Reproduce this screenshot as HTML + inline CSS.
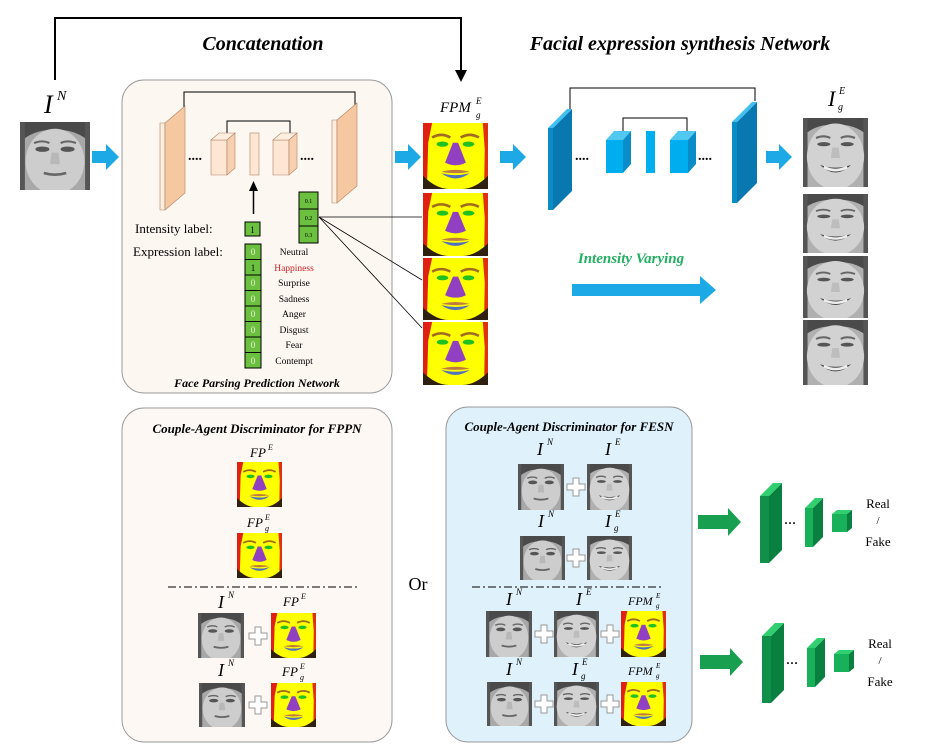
<!DOCTYPE html>
<html><head><meta charset="utf-8"><style>
html,body{margin:0;padding:0;background:#fff}
svg{display:block}
text{font-family:"Liberation Serif",serif}
</style></head><body>
<svg width="951" height="752" viewBox="0 0 951 752" xmlns="http://www.w3.org/2000/svg">
<defs>
<symbol id="face" viewBox="0 0 100 100" preserveAspectRatio="none">
<rect width="100" height="100" fill="#a8a8a8"/>
<path d="M0 0 H100 V30 Q80 10 50 12 Q20 10 0 30Z" fill="#4a4a4a"/>
<rect x="0" y="0" width="7" height="100" fill="#555"/>
<rect x="93" y="0" width="7" height="100" fill="#555"/>
<ellipse cx="50" cy="58" rx="42" ry="48" fill="#cdcdcd"/>
<ellipse cx="32" cy="40" rx="10" ry="4" fill="#555"/>
<ellipse cx="68" cy="40" rx="10" ry="4" fill="#555"/>
<path d="M20 31 Q32 26 42 31" stroke="#666" stroke-width="3" fill="none"/>
<path d="M58 31 Q68 26 80 31" stroke="#666" stroke-width="3" fill="none"/>
<path d="M45 45 L43 62 L57 62 L55 45" fill="#b8b8b8"/>
<path d="M34 75 Q50 80 66 75" stroke="#666" stroke-width="4" fill="none"/>
</symbol>
<symbol id="smile" viewBox="0 0 100 100" preserveAspectRatio="none">
<rect width="100" height="100" fill="#b0b0b0"/>
<path d="M0 0 H100 V26 Q80 8 50 10 Q20 8 0 26Z" fill="#4a4a4a"/>
<rect x="0" y="0" width="7" height="100" fill="#555"/>
<rect x="93" y="0" width="7" height="100" fill="#555"/>
<ellipse cx="50" cy="56" rx="44" ry="48" fill="#d2d2d2"/>
<ellipse cx="32" cy="38" rx="10" ry="3" fill="#555"/>
<ellipse cx="68" cy="38" rx="10" ry="3" fill="#555"/>
<path d="M20 29 Q32 24 42 29" stroke="#666" stroke-width="3" fill="none"/>
<path d="M58 29 Q68 24 80 29" stroke="#666" stroke-width="3" fill="none"/>
<path d="M45 43 L43 58 L57 58 L55 43" fill="#bdbdbd"/>
<path d="M26 68 Q50 90 74 68 Q50 76 26 68Z" fill="#444"/>
<path d="M32 71 Q50 80 68 71" stroke="#eee" stroke-width="4" fill="none"/>
</symbol>
<symbol id="fp" viewBox="0 0 100 100" preserveAspectRatio="none">
<rect width="100" height="100" fill="#ffff00"/>
<path d="M0 0 L14 0 L8 30 L6 100 L0 100Z" fill="#e02010"/>
<path d="M100 0 L92 0 L95 40 L94 100 L100 100Z" fill="#e03010"/>
<path d="M0 80 Q20 100 40 100 L0 100Z" fill="#302010"/>
<path d="M100 80 Q80 100 60 100 L100 100Z" fill="#302010"/>
<path d="M14 22 Q28 14 42 22" stroke="#a06a20" stroke-width="4" fill="none"/>
<path d="M58 22 Q72 14 86 22" stroke="#a06a20" stroke-width="4" fill="none"/>
<ellipse cx="30" cy="32" rx="9" ry="4" fill="#20c020"/>
<ellipse cx="70" cy="32" rx="9" ry="4" fill="#20c020"/>
<path d="M46 30 L54 30 L66 60 Q50 68 34 60Z" fill="#9040c0"/>
<path d="M28 74 Q50 68 72 74 Q50 78 28 74Z" fill="#c07a40"/>
<path d="M28 76 Q50 92 72 76 Q50 82 28 76Z" fill="#5070c0"/>
</symbol>
<symbol id="plus" viewBox="0 0 20 20"><path d="M7 1H13V7H19V13H13V19H7V13H1V7H7Z" fill="#fff" stroke="#999" stroke-width="1"/></symbol>
</defs>

<polyline points="55,80 55,18 461,18 461,72" fill="none" stroke="#000" stroke-width="2"/>
<polygon points="455,70 467,70 461,82" fill="#000"/>
<text x="263" y="50" font-size="20" font-weight="bold" font-style="italic" text-anchor="middle">Concatenation</text>
<text x="680" y="50" font-size="20" font-weight="bold" font-style="italic" text-anchor="middle">Facial expression synthesis Network</text>

<text x="44" y="113" font-size="26" font-style="italic">I</text><text x="57" y="100" font-size="14" font-style="italic">N</text>
<use href="#face" x="20" y="122" width="70" height="68"/>
<polygon points="92,151 106,151 106,144 119,157 106,170 106,163 92,163" fill="#1ca9e6"/>

<rect x="122" y="80" width="270" height="313" rx="22" fill="#fdf7f2" stroke="#999"/>
<polyline points="184,112 184,92 355,92 355,105" fill="none" stroke="#000"/>
<polygon points="160,123 165,123 165,210 160,210" fill="#fdeee0" stroke="#b08060" stroke-width=".6"/>
<polygon points="165,123 185,106 185,193 165,210" fill="#f6c8a2" stroke="#b08060" stroke-width=".6"/>
<polygon points="332,120 337,120 337,203 332,203" fill="#fdeee0" stroke="#b08060" stroke-width=".6"/>
<polygon points="337,120 357,103 357,186 337,203" fill="#f6c8a2" stroke="#b08060" stroke-width=".6"/>
<polyline points="227,135 227,121 290,121 290,135" fill="none" stroke="#000"/>
<polygon points="211,140 227,140 227,175 211,175" fill="#fde6d4" stroke="#b08060" stroke-width=".6"/>
<polygon points="211,140 219,133 235,133 227,140" fill="#fdeee0" stroke="#b08060" stroke-width=".6"/>
<polygon points="227,140 235,133 235,168 227,175" fill="#f6d0b0" stroke="#b08060" stroke-width=".6"/>
<rect x="250" y="133" width="9" height="42" fill="#fde6d4" stroke="#b08060" stroke-width=".6"/>
<polygon points="273,140 289,140 289,175 273,175" fill="#fde6d4" stroke="#b08060" stroke-width=".6"/>
<polygon points="273,140 281,133 297,133 289,140" fill="#fdeee0" stroke="#b08060" stroke-width=".6"/>
<polygon points="289,140 297,133 297,168 289,175" fill="#f6d0b0" stroke="#b08060" stroke-width=".6"/>
<text x="188" y="160" font-size="14" font-weight="bold">....</text>
<text x="300" y="160" font-size="14" font-weight="bold">....</text>
<line x1="253.5" y1="214" x2="253.5" y2="190" stroke="#000" stroke-width="1.5"/>
<polygon points="249,191 258,191 253.5,181" fill="#000"/>
<text x="135" y="233" font-size="13">Intensity label:</text>
<text x="133" y="256" font-size="13">Expression label:</text>
<rect x="245" y="222" width="15" height="14" fill="#6cc040" stroke="#000"/>
<text x="252.5" y="233" font-size="9" text-anchor="middle">1</text>
<g font-size="9">
<rect x="245" y="244" width="16" height="124" fill="#6cc040" stroke="#000"/>
<g stroke="#000"><line x1="245" y1="259.5" x2="261" y2="259.5"/><line x1="245" y1="275" x2="261" y2="275"/><line x1="245" y1="290.5" x2="261" y2="290.5"/><line x1="245" y1="306" x2="261" y2="306"/><line x1="245" y1="321.5" x2="261" y2="321.5"/><line x1="245" y1="337" x2="261" y2="337"/><line x1="245" y1="352.5" x2="261" y2="352.5"/></g>
<g fill="#f0f0e0" text-anchor="middle"><text x="253" y="255">0</text><text x="253" y="271" fill="#000">1</text><text x="253" y="286">0</text><text x="253" y="302">0</text><text x="253" y="317">0</text><text x="253" y="333">0</text><text x="253" y="348">0</text><text x="253" y="364">0</text></g>
</g>
<g font-size="9.5" text-anchor="middle"><text x="294" y="255">Neutral</text><text x="294" y="271" fill="#d02020">Happiness</text><text x="294" y="286">Surprise</text><text x="294" y="302">Sadness</text><text x="294" y="317">Anger</text><text x="294" y="333">Disgust</text><text x="294" y="348">Fear</text><text x="294" y="364">Contempt</text></g>
<rect x="299" y="192" width="19" height="51" fill="#6cc040" stroke="#000"/>
<line x1="299" y1="209" x2="318" y2="209" stroke="#000"/><line x1="299" y1="226" x2="318" y2="226" stroke="#000"/>
<g font-size="6" text-anchor="middle"><text x="308.5" y="203">0.1</text><text x="308.5" y="220">0.2</text><text x="308.5" y="237">0.3</text></g>
<g stroke="#000" stroke-width=".8"><line x1="319" y1="217" x2="422" y2="217"/><line x1="319" y1="217" x2="422" y2="280"/><line x1="319" y1="217" x2="422" y2="328"/></g>
<text x="257" y="387" font-size="12" font-weight="bold" font-style="italic" text-anchor="middle">Face Parsing Prediction Network</text>

<text x="440" y="112" font-size="15" font-style="italic">FPM</text><text x="476" y="104" font-size="9" font-style="italic">E</text><text x="476" y="118" font-size="9" font-style="italic">g</text>
<polygon points="395,151 408,151 408,144 421,157 408,170 408,163 395,163" fill="#1ca9e6"/>
<use href="#fp" x="423" y="123" width="65" height="66"/>
<use href="#fp" x="423" y="193" width="65" height="63"/>
<use href="#fp" x="423" y="258" width="65" height="62"/>
<use href="#fp" x="423" y="322" width="65" height="63"/>
<polygon points="500,151 513,151 513,144 526,157 513,170 513,163 500,163" fill="#1ca9e6"/>

<polyline points="570,110 570,88 755,88 755,101" fill="none" stroke="#000"/>
<polygon points="548,128 553,128 553,210 548,210" fill="#0a8cc8"/>
<polygon points="553,128 572,109 572,191 553,210" fill="#0a78b0"/>
<polygon points="548,128 567,109 572,109 553,128" fill="#40c0f0"/>
<polygon points="732,122 737,122 737,203 732,203" fill="#0a8cc8"/>
<polygon points="737,122 757,102 757,183 737,203" fill="#0a78b0"/>
<polygon points="732,122 752,102 757,102 737,122" fill="#40c0f0"/>
<polyline points="623,133 623,118 687,118 687,133" fill="none" stroke="#000"/>
<rect x="606" y="140" width="17" height="33" fill="#00aeef"/>
<polygon points="606,140 614,131 631,131 623,140" fill="#50c8f0"/>
<polygon points="623,140 631,131 631,164 623,173" fill="#0a8cc8"/>
<rect x="646" y="131" width="9" height="42" fill="#00aeef"/>
<rect x="670" y="140" width="18" height="33" fill="#00aeef"/>
<polygon points="670,140 678,131 696,131 688,140" fill="#50c8f0"/>
<polygon points="688,140 696,131 696,164 688,173" fill="#0a8cc8"/>
<text x="575" y="160" font-size="14" font-weight="bold">....</text>
<text x="698" y="160" font-size="14" font-weight="bold">....</text>
<polygon points="766,151 779,151 779,144 792,157 779,170 779,163 766,163" fill="#1ca9e6"/>

<text x="828" y="106" font-size="22" font-style="italic">I</text><text x="839" y="94" font-size="10" font-style="italic">E</text><text x="838" y="110" font-size="10" font-style="italic">g</text>
<use href="#smile" x="803" y="118" width="65" height="69"/>
<use href="#smile" x="803" y="194" width="65" height="59"/>
<use href="#smile" x="803" y="256" width="65" height="62"/>
<use href="#smile" x="803" y="320" width="65" height="65"/>
<text x="631" y="263" font-size="15" font-weight="bold" font-style="italic" fill="#20b060" text-anchor="middle">Intensity Varying</text>
<polygon points="572,284 700,284 700,276 716,290 700,304 700,296 572,296" fill="#1ca9e6"/>

<rect x="122" y="408" width="270" height="334" rx="22" fill="#fdf8f4" stroke="#999"/>
<text x="257" y="433" font-size="13" font-weight="bold" font-style="italic" text-anchor="middle">Couple-Agent Discriminator for FPPN</text>
<text x="250" y="457" font-size="13" font-style="italic">FP</text><text x="268" y="450" font-size="8" font-style="italic">E</text>
<use href="#fp" x="237" y="462" width="45" height="45"/>
<text x="247" y="527" font-size="13" font-style="italic">FP</text><text x="265" y="520" font-size="8" font-style="italic">E</text><text x="265" y="531" font-size="8" font-style="italic">g</text>
<use href="#fp" x="237" y="533" width="45" height="45"/>
<line x1="168" y1="587" x2="360" y2="587" stroke="#000" stroke-dasharray="8,3,2,3"/>
<text x="218" y="608" font-size="18" font-style="italic">I</text><text x="228" y="598" font-size="9" font-style="italic">N</text>
<text x="283" y="606" font-size="13" font-style="italic">FP</text><text x="301" y="599" font-size="8" font-style="italic">E</text>
<use href="#face" x="198" y="613" width="46" height="45"/>
<use href="#plus" x="248" y="626" width="20" height="20"/>
<use href="#fp" x="271" y="613" width="45" height="45"/>
<text x="218" y="676" font-size="18" font-style="italic">I</text><text x="228" y="666" font-size="9" font-style="italic">N</text>
<text x="282" y="676" font-size="13" font-style="italic">FP</text><text x="300" y="669" font-size="8" font-style="italic">E</text><text x="300" y="680" font-size="8" font-style="italic">g</text>
<use href="#face" x="199" y="683" width="46" height="44"/>
<use href="#plus" x="248" y="695" width="20" height="20"/>
<use href="#fp" x="271" y="683" width="45" height="44"/>
<text x="418" y="590" font-size="18" font-family="Liberation Sans, sans-serif" text-anchor="middle">Or</text>

<rect x="446" y="407" width="246" height="335" rx="22" fill="#dff1fb" stroke="#999"/>
<text x="569" y="431" font-size="13" font-weight="bold" font-style="italic" text-anchor="middle">Couple-Agent Discriminator for FESN</text>
<text x="537" y="455" font-size="18" font-style="italic">I</text><text x="547" y="445" font-size="9" font-style="italic">N</text>
<text x="605" y="455" font-size="18" font-style="italic">I</text><text x="615" y="445" font-size="9" font-style="italic">E</text>
<use href="#face" x="518" y="464" width="46" height="46"/>
<use href="#plus" x="566" y="477" width="20" height="20"/>
<use href="#smile" x="587" y="464" width="45" height="46"/>
<text x="538" y="527" font-size="18" font-style="italic">I</text><text x="548" y="517" font-size="9" font-style="italic">N</text>
<text x="605" y="527" font-size="18" font-style="italic">I</text><text x="615" y="517" font-size="9" font-style="italic">E</text><text x="614" y="531" font-size="9" font-style="italic">g</text>
<use href="#face" x="520" y="536" width="45" height="44"/>
<use href="#plus" x="566" y="548" width="20" height="20"/>
<use href="#smile" x="587" y="536" width="45" height="44"/>
<line x1="472" y1="587" x2="662" y2="587" stroke="#000" stroke-dasharray="8,3,2,3"/>
<text x="506" y="605" font-size="18" font-style="italic">I</text><text x="516" y="595" font-size="9" font-style="italic">N</text>
<text x="576" y="605" font-size="18" font-style="italic">I</text><text x="586" y="595" font-size="9" font-style="italic">E</text>
<text x="628" y="605" font-size="12" font-style="italic">FPM</text><text x="656" y="598" font-size="7" font-style="italic">E</text><text x="656" y="608" font-size="7" font-style="italic">g</text>
<use href="#face" x="486" y="611" width="46" height="46"/>
<use href="#plus" x="534" y="624" width="20" height="20"/>
<use href="#smile" x="554" y="611" width="45" height="46"/>
<use href="#plus" x="600" y="624" width="20" height="20"/>
<use href="#fp" x="621" y="611" width="45" height="46"/>
<text x="506" y="675" font-size="18" font-style="italic">I</text><text x="516" y="665" font-size="9" font-style="italic">N</text>
<text x="572" y="675" font-size="18" font-style="italic">I</text><text x="582" y="665" font-size="9" font-style="italic">E</text><text x="581" y="679" font-size="9" font-style="italic">g</text>
<text x="628" y="675" font-size="12" font-style="italic">FPM</text><text x="656" y="668" font-size="7" font-style="italic">E</text><text x="656" y="678" font-size="7" font-style="italic">g</text>
<use href="#face" x="487" y="682" width="45" height="44"/>
<use href="#plus" x="534" y="694" width="20" height="20"/>
<use href="#smile" x="554" y="682" width="45" height="44"/>
<use href="#plus" x="600" y="694" width="20" height="20"/>
<use href="#fp" x="621" y="682" width="45" height="44"/>

<g id="disc">
<polygon points="698,515 728,515 728,508 741,522 728,536 728,529 698,529" fill="#18a050"/>
<polygon points="760,496 769,496 769,563 760,563" fill="#109048"/>
<polygon points="769,496 782,483 782,550 769,563" fill="#0a8040"/>
<polygon points="760,496 773,483 782,483 769,496" fill="#30d070"/>
<text x="784" y="527" font-size="12" font-weight="bold">···</text>
<polygon points="805,508 813,508 813,547 805,547" fill="#18b058"/>
<polygon points="813,508 823,498 823,537 813,547" fill="#0a8040"/>
<polygon points="805,508 815,498 823,498 813,508" fill="#30d070"/>
<rect x="832" y="514" width="15" height="18" fill="#18b058"/>
<polygon points="832,514 837,510 852,510 847,514" fill="#30d070"/>
<polygon points="847,514 852,510 852,528 847,532" fill="#0a8040"/>
<text x="878" y="508" font-size="13" font-family="Liberation Sans, sans-serif" text-anchor="middle">Real</text>
<text x="878" y="524" font-size="11" font-family="Liberation Sans, sans-serif" text-anchor="middle">/</text>
<text x="878" y="546" font-size="13" font-family="Liberation Sans, sans-serif" text-anchor="middle">Fake</text>
</g>
<use href="#disc" x="2" y="140"/>
</svg>
</body></html>
